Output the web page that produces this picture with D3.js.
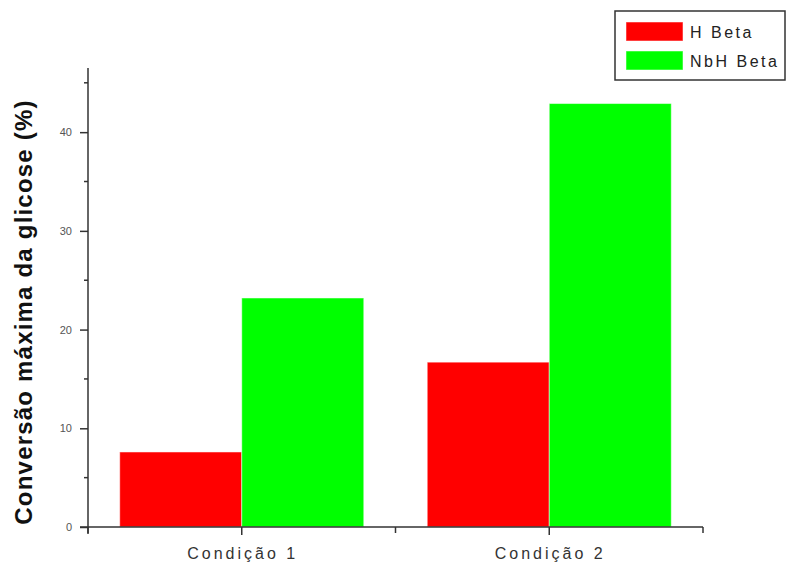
<!DOCTYPE html>
<html>
<head>
<meta charset="utf-8">
<script src="https://cdn.jsdelivr.net/npm/d3@7"></script>
<style>
  body { margin: 0; background: #fff; }
  text { font-family: "Liberation Sans", Arial, sans-serif; }
</style>
</head>
<body>
<svg width="788" height="566"></svg>
<script>
// data
const categories = ["Condição 1", "Condição 2"];
const seriesNames = ["H Beta", "NbH Beta"];
const hBeta = [7.6, 16.7];
const nbhBeta = [23.2, 42.9];
const colors = ["#ff0000", "#00ff00"];
const yTicks = [0, 10, 20, 30, 40];

const svg = d3.select("svg");

// plot area
const plotLeft = 88, plotRight = 703, plotTop = 68, plotBottom = 527;

const x = d3.scaleBand()
    .domain(categories)
    .range([plotLeft, plotRight])
    .paddingInner(0)
    .paddingOuter(0);

const xSeries = d3.scaleBand()
    .domain(seriesNames)
    .range([0, x.bandwidth()])
    .paddingOuter(0.26);

const y = d3.scaleLinear()
    .domain([0, 46.5])
    .range([plotBottom, plotTop]);

const rows = categories.map((c, i) => ({cat: c, vals: [hBeta[i], nbhBeta[i]]}));

// bars
svg.append("g")
  .selectAll("g")
  .data(rows)
  .join("g")
    .attr("transform", d => `translate(${x(d.cat)},0)`)
  .selectAll("rect")
  .data(d => d.vals.map((v, j) => ({name: seriesNames[j], v: v, j: j})))
  .join("rect")
    .attr("x", d => xSeries(d.name))
    .attr("width", xSeries.bandwidth())
    .attr("y", d => y(d.v))
    .attr("height", d => y(0) - y(d.v))
    .attr("fill", d => colors[d.j])
    .attr("stroke", "#fff")
    .attr("stroke-opacity", 0.5)
    .attr("stroke-width", 1);

// y axis
const yAxis = svg.append("g")
    .attr("transform", `translate(${plotLeft},0)`)
    .call(d3.axisLeft(y).tickValues(yTicks).tickSize(8).tickPadding(8));
yAxis.select(".domain").remove();
yAxis.selectAll(".tick line").attr("stroke", "#333").attr("stroke-width", 1.5);
yAxis.selectAll(".tick text")
    .attr("fill", "#555")
    .style("font-size", "11px")
    .style("font-family", "Liberation Sans, Arial, sans-serif");

// minor y ticks
svg.append("g")
  .selectAll("line")
  .data(d3.range(5, 46, 10))
  .join("line")
    .attr("x1", plotLeft - 4).attr("x2", plotLeft)
    .attr("y1", d => y(d)).attr("y2", d => y(d))
    .attr("stroke", "#333").attr("stroke-width", 1.5);

svg.append("line")
    .attr("x1", plotLeft).attr("x2", plotLeft)
    .attr("y1", plotTop).attr("y2", plotBottom + 7)
    .attr("stroke", "#333").attr("stroke-width", 1.5);

// x axis
svg.append("line")
    .attr("x1", plotLeft - 8).attr("x2", plotRight)
    .attr("y1", plotBottom).attr("y2", plotBottom)
    .attr("stroke", "#333").attr("stroke-width", 1.5);

const xTickPos = [plotLeft, x(categories[1]), plotRight];
svg.append("g")
  .selectAll("line")
  .data(xTickPos)
  .join("line")
    .attr("x1", d => d).attr("x2", d => d)
    .attr("y1", plotBottom).attr("y2", plotBottom + 6)
    .attr("stroke", "#333").attr("stroke-width", 1.5);

svg.append("g")
  .selectAll("line")
  .data(categories)
  .join("line")
    .attr("x1", d => x(d) + x.bandwidth() / 2).attr("x2", d => x(d) + x.bandwidth() / 2)
    .attr("y1", plotBottom).attr("y2", plotBottom + 8)
    .attr("stroke", "#333").attr("stroke-width", 1.5);

svg.append("g")
  .selectAll("text")
  .data(categories)
  .join("text")
    .attr("x", d => x(d) + x.bandwidth() / 2 + 1)
    .attr("y", 559)
    .attr("text-anchor", "middle")
    .attr("fill", "#333")
    .style("font-size", "16px")
    .style("letter-spacing", "3px")
    .text(d => d);

// y title
svg.append("text")
    .attr("transform", "translate(32,312) rotate(-90)")
    .attr("text-anchor", "middle")
    .attr("fill", "#111")
    .style("font-size", "24px")
    .style("font-weight", "bold")
    .style("letter-spacing", "1.2px")
    .text("Conversão máxima da glicose (%)");

// legend
const legend = svg.append("g");
legend.append("rect")
    .attr("x", 615).attr("y", 11)
    .attr("width", 170).attr("height", 69)
    .attr("fill", "#fff")
    .attr("stroke", "#333").attr("stroke-width", 1.5);

const li = legend.selectAll("g.item")
  .data(seriesNames)
  .join("g")
    .attr("class", "item")
    .attr("transform", (d, i) => `translate(626,${22 + i * 29})`);
li.append("rect")
    .attr("width", 57).attr("height", 19)
    .attr("fill", (d, i) => colors[i])
    .attr("stroke", "#fff").attr("stroke-opacity", 0.5);
li.append("text")
    .attr("x", 64).attr("y", 16)
    .attr("fill", "#222")
    .style("font-size", "16px")
    .style("letter-spacing", "2.5px")
    .text(d => d);
</script>
</body>
</html>
